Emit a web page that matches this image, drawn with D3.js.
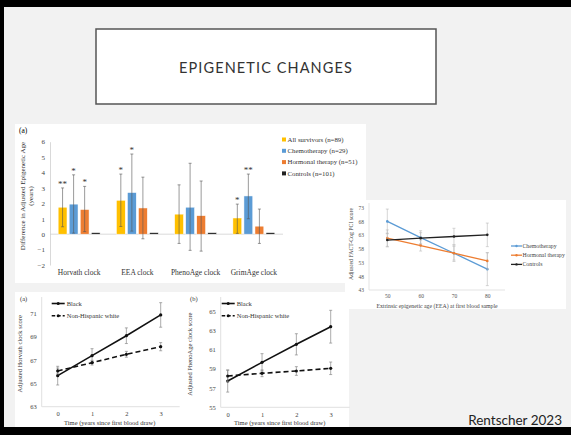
<!DOCTYPE html>
<html>
<head>
<meta charset="utf-8">
<script src="https://cdn.jsdelivr.net/npm/d3@7"></script>
<style>
  html, body { margin: 0; padding: 0; background: #f2f2f2; }
  svg { display: block; }
</style>
</head>
<body>
<div id="slide"></div>
<script>
const W = 571, H = 435;
const SERIF = "'Liberation Serif', 'Times New Roman', serif";

// ---- bar chart (a) data ----
const clocks = ["Horvath clock", "EEA clock", "PhenoAge clock", "GrimAge clock"];
const groups = ["All survivors (n=89)", "Chemotherapy (n=29)", "Hormonal therapy (n=51)", "Controls (n=101)"];
const groupColors = ["#ffc000", "#5b9bd5", "#ed7d31", "#222222"];
const allSurvivors = [1.75, 2.2, 1.3, 1.05];
const allSurvivorsLo = [0.48, 0.5, -0.6, 0.05];
const allSurvivorsHi = [3.0, 3.9, 3.2, 1.95];
const chemo = [1.95, 2.7, 1.75, 2.48];
const chemoLo = [0.07, 0.2, -1.05, 1.0];
const chemoHi = [3.85, 5.2, 4.6, 3.9];
const hormonal = [1.6, 1.7, 1.2, 0.52];
const hormonalLo = [0.17, -0.3, -1.1, -0.6];
const hormonalHi = [3.1, 3.7, 3.45, 1.63];
const controls = [0.1, 0.1, 0.1, 0.1];
const sigMarks = [["**", "*", "*", ""], ["*", "*", "", ""], ["", "", "", ""], ["*", "**", "", ""]];
const barTicks = [-2, -1, 0, 1, 2, 3, 4, 5, 6];

// ---- FACT-Cog line chart data ----
const eeaAges = [50, 60, 70, 80];
const cogChemo = [68, 62.1, 56.4, 50.6];
const cogChemoErr = [4.5, 2.5, 3, 6];
const cogHormonal = [61.9, 59.2, 56.4, 53.6];
const cogHormonalErr = [3, 2, 2.5, 3];
const cogControls = [61.2, 61.9, 62.5, 63.1];
const cogControlsErr = [2.5, 2, 3, 4.3];
const cogTicks = [43, 48, 53, 58, 63, 68, 73];

// ---- race panels data ----
const years = [0, 1, 2, 3];
const horvathBlack = [65.66, 67.37, 69.08, 70.86];
const horvathBlackErr = [0.8, 0.6, 0.67, 1.05];
const horvathWhite = [66.06, 66.77, 67.49, 68.14];
const horvathWhiteErr = [0.25, 0.2, 0.25, 0.35];
const horvathTicks = [63, 65, 67, 69, 71];
const phenoBlack = [57.73, 59.67, 61.54, 63.37];
const phenoBlackErr = [1.15, 0.9, 1.1, 1.7];
const phenoWhite = [58.25, 58.53, 58.77, 59.05];
const phenoWhiteErr = [0.6, 0.35, 0.45, 0.65];
const phenoTicks = [55, 57, 59, 61, 63, 65];

const svg = d3.select("#slide").append("svg")
  .attr("width", W).attr("height", H);

// slide frame
svg.append("rect").attr("width", W).attr("height", H).attr("fill", "#f2f2f2");
svg.append("rect").attr("x", 0).attr("y", 0).attr("width", W).attr("height", 7).attr("fill", "#000");
svg.append("rect").attr("x", 0).attr("y", 0).attr("width", 4).attr("height", H).attr("fill", "#000");
svg.append("rect").attr("x", 0).attr("y", 427).attr("width", W).attr("height", 8).attr("fill", "#000");

// title box
svg.append("rect").attr("x", 96).attr("y", 29).attr("width", 340).attr("height", 75)
  .attr("fill", "#fff").attr("stroke", "#555").attr("stroke-width", 1.5);
svg.append("text").text("EPIGENETIC CHANGES")
  .attr("x", 266).attr("y", 73).attr("text-anchor", "middle")
  .attr("font-family", "Lato, 'Open Sans', sans-serif").attr("font-size", 14.5)
  .attr("letter-spacing", 1.1).attr("fill", "#333");

svg.append("text").text("Rentscher 2023")
  .attr("x", 562).attr("y", 425).attr("text-anchor", "end")
  .attr("font-family", "Lato, 'Open Sans', sans-serif").attr("font-size", 13.5)
  .attr("fill", "#222");

// ================= bar chart =================
const gBar = svg.append("g");
gBar.append("rect").attr("x", 15).attr("y", 124).attr("width", 351).attr("height", 159).attr("fill", "#fff");
gBar.append("text").text("(a)").attr("x", 19).attr("y", 133)
  .attr("font-family", SERIF).attr("font-size", 7.5);

const yBar = d3.scaleLinear().domain([-2, 6]).range([265, 141.7]);
const x0 = d3.scaleBand().domain(clocks).range([50, 283]).paddingInner(0.28).paddingOuter(0.14);
const x1 = d3.scaleBand().domain(groups).range([0, x0.bandwidth()]).paddingInner(0.2);

const yAxBar = gBar.append("g").attr("transform", "translate(50,0)")
  .call(d3.axisLeft(yBar).tickValues(barTicks).tickSize(0).tickPadding(5));
yAxBar.select(".domain").attr("stroke", "#d9d9d9");
yAxBar.selectAll("text").attr("font-family", SERIF).attr("font-size", 7).attr("fill", "#444");

gBar.append("line").attr("x1", 50).attr("x2", 283)
  .attr("y1", yBar(0)).attr("y2", yBar(0)).attr("stroke", "#d0d0d0").attr("stroke-width", 0.8);

const xAxBar = gBar.append("g").attr("transform", "translate(0,268)")
  .call(d3.axisBottom(x0).tickSize(0).tickPadding(2));
xAxBar.select(".domain").remove();
xAxBar.selectAll("text").attr("font-family", SERIF).attr("font-size", 7.5).attr("fill", "#333");

const ytitle = gBar.append("text").attr("transform", "translate(25,196) rotate(-90)")
  .attr("text-anchor", "middle").attr("font-family", SERIF).attr("font-size", 7).attr("fill", "#333");
ytitle.append("tspan").attr("x", 0).attr("dy", 0).text("Difference in Adjusted Epigenetic Age");
ytitle.append("tspan").attr("x", 0).attr("dy", 7.5).text("(years)");

const barSeries = [
  { vals: allSurvivors, lo: allSurvivorsLo, hi: allSurvivorsHi },
  { vals: chemo, lo: chemoLo, hi: chemoHi },
  { vals: hormonal, lo: hormonalLo, hi: hormonalHi },
  { vals: controls, lo: null, hi: null }
];
const barRows = [];
clocks.forEach((c, ci) => {
  groups.forEach((g, gi) => {
    const s = barSeries[gi];
    barRows.push({
      clock: c, group: g, gi: gi, v: s.vals[ci],
      lo: s.lo ? s.lo[ci] : null, hi: s.hi ? s.hi[ci] : null,
      sig: sigMarks[ci][gi]
    });
  });
});

const bars = gBar.append("g").selectAll("g").data(barRows).join("g")
  .attr("transform", d => `translate(${x0(d.clock) + x1(d.group)},0)`);
bars.append("rect")
  .attr("x", 0).attr("width", x1.bandwidth())
  .attr("y", d => yBar(Math.max(0, d.v)))
  .attr("height", d => Math.max(1.5, Math.abs(yBar(d.v) - yBar(0))))
  .attr("fill", d => groupColors[d.gi])
  .attr("stroke", "#fff").attr("stroke-width", 0.5);
const eb = bars.filter(d => d.lo !== null);
eb.append("line").attr("x1", x1.bandwidth() / 2).attr("x2", x1.bandwidth() / 2)
  .attr("y1", d => yBar(d.lo)).attr("y2", d => yBar(d.hi))
  .attr("stroke", "#555").attr("stroke-width", 0.6);
eb.selectAll("line.cap").data(d => [d.lo, d.hi]).join("line").attr("class", "cap")
  .attr("x1", x1.bandwidth() / 2 - 1.5).attr("x2", x1.bandwidth() / 2 + 1.5)
  .attr("y1", d => yBar(d)).attr("y2", d => yBar(d))
  .attr("stroke", "#555").attr("stroke-width", 0.6);
bars.filter(d => d.sig).append("text").text(d => d.sig)
  .attr("x", x1.bandwidth() / 2).attr("y", d => yBar(d.hi) - 1)
  .attr("text-anchor", "middle").attr("font-family", SERIF).attr("font-size", 9).attr("fill", "#333");

// legend
const leg = gBar.append("g").selectAll("g").data(groups).join("g")
  .attr("transform", (d, i) => `translate(282,${140 + i * 11.3})`);
leg.append("rect").attr("x", 0).attr("y", -2.5).attr("width", 4).attr("height", 4)
  .attr("fill", (d, i) => groupColors[i]);
leg.append("text").text(d => d).attr("x", 5.5).attr("y", 1.6)
  .attr("font-family", SERIF).attr("font-size", 6.8).attr("fill", "#333");

// ================= FACT-Cog line chart =================
const gCog = svg.append("g");
gCog.append("rect").attr("x", 345).attr("y", 200).attr("width", 221).attr("height", 109).attr("fill", "#fff");
const xCog = d3.scalePoint().domain(eeaAges).range([387.3, 487.3]);
const yCog = d3.scaleLinear().domain([43, 73]).range([290, 207.7]);

const yAxCog = gCog.append("g").attr("transform", "translate(369,0)")
  .call(d3.axisLeft(yCog).tickValues(cogTicks).tickSize(0).tickPadding(5));
yAxCog.select(".domain").remove();
yAxCog.selectAll("text").attr("font-family", SERIF).attr("font-size", 5.5).attr("fill", "#555");
gCog.append("line").attr("x1", 369).attr("x2", 369).attr("y1", 203).attr("y2", 290).attr("stroke", "#e3e3e3");
gCog.append("line").attr("x1", 369).attr("x2", 505).attr("y1", 290).attr("y2", 290).attr("stroke", "#e3e3e3");
const xAxCog = gCog.append("g").attr("transform", "translate(0,292)")
  .call(d3.axisBottom(xCog).tickSize(0).tickPadding(2));
xAxCog.select(".domain").remove();
xAxCog.selectAll("text").attr("font-family", SERIF).attr("font-size", 5.5).attr("fill", "#555");
gCog.append("text").text("Extrinsic epigenetic age (EEA) at first blood sample")
  .attr("x", 437).attr("y", 307.5).attr("text-anchor", "middle")
  .attr("font-family", SERIF).attr("font-size", 5.8).attr("fill", "#444");
gCog.append("text").text("Adjusted FACT-Cog PCI score")
  .attr("transform", "translate(353,244) rotate(-90)").attr("text-anchor", "middle")
  .attr("font-family", SERIF).attr("font-size", 5.8).attr("fill", "#444");

const cogSeries = [
  { name: "Chemotherapy", vals: cogChemo, err: cogChemoErr, color: "#5b9bd5" },
  { name: "Hormonal therapy", vals: cogHormonal, err: cogHormonalErr, color: "#ed7d31" },
  { name: "Controls", vals: cogControls, err: cogControlsErr, color: "#222" }
];
const cogLine = d3.line().x(d => xCog(d.x)).y(d => yCog(d.y));
cogSeries.forEach((s, si) => {
  const pts = eeaAges.map((a, i) => ({ x: a, y: s.vals[i], e: s.err[i] }));
  const g = gCog.append("g");
  g.selectAll("line.err").data(pts).join("line").attr("class", "err")
    .attr("x1", d => xCog(d.x)).attr("x2", d => xCog(d.x))
    .attr("y1", d => yCog(d.y - d.e)).attr("y2", d => yCog(d.y + d.e))
    .attr("stroke", "#bbb").attr("stroke-width", 0.6);
  g.selectAll("line.cap").data(pts.flatMap(p => [p.y - p.e, p.y + p.e].map(v => ({ x: p.x, v }))))
    .join("line").attr("class", "cap")
    .attr("x1", d => xCog(d.x) - 1.5).attr("x2", d => xCog(d.x) + 1.5)
    .attr("y1", d => yCog(d.v)).attr("y2", d => yCog(d.v))
    .attr("stroke", "#bbb").attr("stroke-width", 0.6);
  g.append("path").datum(pts).attr("d", cogLine).attr("fill", "none")
    .attr("stroke", s.color).attr("stroke-width", 1.3);
  g.selectAll("circle").data(pts).join("circle")
    .attr("cx", d => xCog(d.x)).attr("cy", d => yCog(d.y)).attr("r", 1.3).attr("fill", s.color);
  const ly = 246 + si * 9.2;
  gCog.append("line").attr("x1", 511).attr("x2", 522).attr("y1", ly).attr("y2", ly)
    .attr("stroke", s.color).attr("stroke-width", 1.3);
  gCog.append("circle").attr("cx", 516.5).attr("cy", ly).attr("r", 1.2).attr("fill", s.color);
  gCog.append("text").text(s.name).attr("x", 522.5).attr("y", ly + 1.8)
    .attr("font-family", SERIF).attr("font-size", 5.8).attr("fill", "#444");
});

// ================= race panels =================
svg.append("rect").attr("x", 15).attr("y", 292).attr("width", 334).attr("height", 135).attr("fill", "#fff");

function racePanel(opts) {
  const g = svg.append("g");
  const x = d3.scalePoint().domain(years).range([opts.x0, opts.x0 + 103]);
  const y = d3.scaleLinear().domain(opts.domain).range(opts.range);
  g.append("text").text(opts.tag).attr("x", opts.left + 5).attr("y", 301)
    .attr("font-family", SERIF).attr("font-size", 6.5).attr("fill", "#333");
  const yAx = g.append("g").attr("transform", `translate(${opts.axisX},0)`)
    .call(d3.axisLeft(y).tickValues(opts.ticks).tickSize(0).tickPadding(5));
  yAx.select(".domain").remove();
  yAx.selectAll("text").attr("font-family", SERIF).attr("font-size", 6.5).attr("fill", "#444");
  g.append("line").attr("x1", opts.axisX).attr("x2", opts.axisX)
    .attr("y1", 297).attr("y2", opts.range[0]).attr("stroke", "#e0e0e0");
  g.append("line").attr("x1", opts.axisX).attr("x2", opts.x0 + 122)
    .attr("y1", opts.range[0]).attr("y2", opts.range[0]).attr("stroke", "#e0e0e0");
  const xAx = g.append("g").attr("transform", `translate(0,${opts.range[0] + 3})`)
    .call(d3.axisBottom(x).tickSize(0).tickPadding(2));
  xAx.select(".domain").remove();
  xAx.selectAll("text").attr("font-family", SERIF).attr("font-size", 6.5).attr("fill", "#444");
  g.append("text").text("Time (years since first blood draw)")
    .attr("x", opts.x0 + 52).attr("y", 424.5).attr("text-anchor", "middle")
    .attr("font-family", SERIF).attr("font-size", 6.5).attr("fill", "#333");
  g.append("text").text(opts.ytitle)
    .attr("transform", `translate(${opts.left + 7},${(297 + opts.range[0]) / 2 + 2}) rotate(-90)`)
    .attr("text-anchor", "middle").attr("font-family", SERIF).attr("font-size", 6.5).attr("fill", "#333");

  const line = d3.line().x(d => x(d.x)).y(d => y(d.y));
  opts.series.forEach(s => {
    const pts = years.map((t, i) => ({ x: t, y: s.vals[i], e: s.err[i] }));
    g.selectAll(null).data(pts).join("line")
      .attr("x1", d => x(d.x)).attr("x2", d => x(d.x))
      .attr("y1", d => y(d.y - d.e)).attr("y2", d => y(d.y + d.e))
      .attr("stroke", "#888").attr("stroke-width", 0.7);
    g.selectAll(null).data(pts.flatMap(p => [p.y - p.e, p.y + p.e].map(v => ({ x: p.x, v })))).join("line")
      .attr("x1", d => x(d.x) - 1.5).attr("x2", d => x(d.x) + 1.5)
      .attr("y1", d => y(d.v)).attr("y2", d => y(d.v))
      .attr("stroke", "#888").attr("stroke-width", 0.7);
    g.append("path").datum(pts).attr("d", line).attr("fill", "none")
      .attr("stroke", "#111").attr("stroke-width", 1.6)
      .attr("stroke-dasharray", s.dash ? "5,3" : null);
    g.selectAll(null).data(pts).join("circle")
      .attr("cx", d => x(d.x)).attr("cy", d => y(d.y)).attr("r", 1.6).attr("fill", "#111");
  });
  opts.series.forEach((s, i) => {
    const ly = 303.5 + i * 12.3;
    const lx = opts.x0 - 6;
    g.append("line").attr("x1", lx).attr("x2", lx + 13).attr("y1", ly).attr("y2", ly)
      .attr("stroke", "#111").attr("stroke-width", 1.6).attr("stroke-dasharray", s.dash ? "3.5,2" : null);
    g.append("circle").attr("cx", lx + 6.5).attr("cy", ly).attr("r", 1.5).attr("fill", "#111");
    g.append("text").text(s.name).attr("x", lx + 15).attr("y", ly + 2)
      .attr("font-family", SERIF).attr("font-size", 6.5).attr("fill", "#333");
  });
}

racePanel({
  tag: "(a)", left: 15, x0: 57.7, axisX: 41.7,
  domain: [63, 71], range: [406.7, 313.3], ticks: horvathTicks,
  ytitle: "Adjusted Horvath clock score",
  series: [
    { name: "Black", vals: horvathBlack, err: horvathBlackErr, dash: false },
    { name: "Non-Hispanic white", vals: horvathWhite, err: horvathWhiteErr, dash: true }
  ]
});
racePanel({
  tag: "(b)", left: 185, x0: 227.7, axisX: 220.7,
  domain: [55, 65], range: [407.3, 311], ticks: phenoTicks,
  ytitle: "Adjusted PhenoAge clock score",
  series: [
    { name: "Black", vals: phenoBlack, err: phenoBlackErr, dash: false },
    { name: "Non-Hispanic white", vals: phenoWhite, err: phenoWhiteErr, dash: true }
  ]
});
</script>
</body>
</html>
